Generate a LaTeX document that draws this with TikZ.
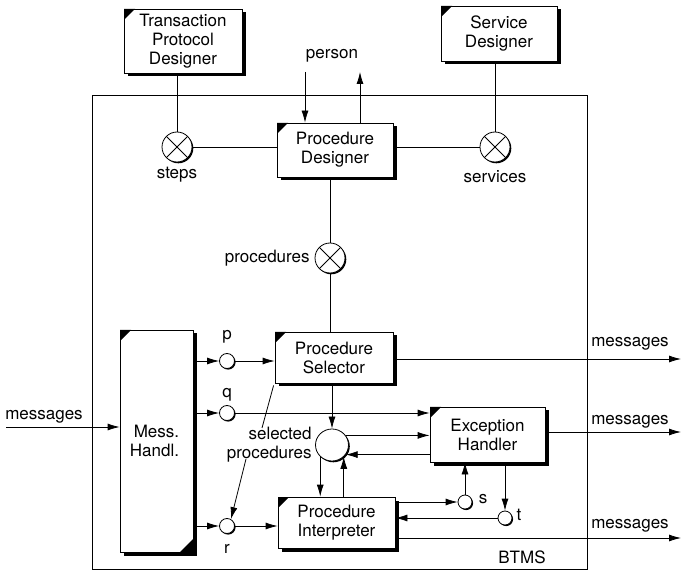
\documentclass[tikz,border=0pt]{standalone}
\usepackage{fontspec}
\setmainfont{TeX Gyre Heros}
\usetikzlibrary{arrows.meta,shapes.geometric,calc}

\begin{document}
\begin{tikzpicture}[x=1pt,y=-1pt,
  font=\fontsize{17}{19}\selectfont,
  line width=0.8pt,
  arr/.style={-{Latex[length=12pt,width=7pt]}, line width=0.8pt},
  shade off/.style={preaction={fill=black, draw=none, transform canvas={shift={(#1,-#1)}}}},
  cornermark/.style={path picture={\fill[black] (path picture bounding box.north west) -- ++(11pt,0) -- ++(-11pt,-11pt) -- cycle;}},
  box/.style={draw, fill=white, align=center, inner sep=0pt, cornermark, shade off=3.5pt},
  xcirc/.style={circle, draw, fill=white, minimum size=30pt, inner sep=0pt, shade off=1.3pt,
    path picture={\draw (path picture bounding box.north west) -- (path picture bounding box.south east)
                        (path picture bounding box.north east) -- (path picture bounding box.south west);}},
  port/.style={circle, draw, fill=white, minimum size=15pt, inner sep=0pt, shade off=1.1pt},
  lbl/.style={inner sep=1pt}
]
\useasboundingbox (0,0) rectangle (681,572);

% system boundary
\node[draw, line width=0.6pt, minimum width=495pt, minimum height=474pt, inner sep=0pt] (btms) at (339.5,332) {};
\node[lbl] (btmslbl) at (522,557) {BTMS};

% designers outside the system
\node[box, minimum width=118pt, minimum height=64pt] (tpd) at (183,41) {Transaction\\Protocol\\Designer};
\node[box, minimum width=116pt, minimum height=55pt] (sd) at (499,33.5) {Service\\Designer};

% components inside the system
\node[box, minimum width=116pt, minimum height=54pt] (pd) at (335,150) {Procedure\\Designer};
\node[box, minimum width=118pt, minimum height=51pt] (ps) at (334,357.5) {Procedure\\Selector};
\node[box, minimum width=73pt, minimum height=222pt,
      path picture={\fill[black] (path picture bounding box.north west) -- ++(11pt,0) -- ++(-11pt,-11pt) -- cycle;
                    \fill[black] (path picture bounding box.south east) -- ++(-13pt,0) -- ++(13pt,13pt) -- cycle;}]
      (mh) at (156.5,441) {Mess.\\Handl.\rule{4pt}{0pt}};
\node[box, minimum width=115pt, minimum height=55pt] (eh) at (487.5,434.5) {Exception\\Handler};
\node[box, minimum width=117pt, minimum height=51pt] (pi) at (336.5,522.5) {Procedure\\Interpreter};

% shared stores
\node[xcirc] (steps) at (177,147) {};
\node[xcirc] (services) at (495,147) {};
\node[xcirc] (procs) at (330,258) {};
\node[lbl] (stepslbl) at (177,175) {steps};
\node[lbl] (serviceslbl) at (495,177) {services};
\node[lbl, anchor=east] (procslbl) at (311,258) {procedures};

% central store of selected procedures
\node[ellipse, draw, fill=white, minimum width=33pt, minimum height=32pt, inner sep=0pt, shade off=1.3pt] (ell) at (332,445) {};
\node[lbl, align=right, anchor=east] (sellbl) at (313,445) {selected\\procedures};

% ports
\node[port] (p) at (227,361) {};
\node[port] (q) at (227,413) {};
\node[port] (r) at (227,526) {};
\node[port, minimum size=14pt] (s) at (465,502) {};
\node[port, minimum size=14pt] (t) at (505,518) {};
\node[lbl] (plbl) at (227,337) {p};
\node[lbl] (qlbl) at (227,395) {q};
\node[lbl] (rlbl) at (227,549) {r};
\node[lbl] (slbl) at (483,499) {s};
\node[lbl] (tlbl) at (519,515) {t};

% person interface
\coordinate (pin) at (305,72);
\coordinate (pout) at (360,72);
\node[lbl] (personlbl) at (332,56) {person};
\draw[arr] (pin) -- (pin |- pd.north);
\draw[arr] (pout |- pd.north) -- (pout);

% store connections
\draw (tpd.south -| steps) -- (steps.north);
\draw (sd.south -| services) -- (services.north);
\draw (steps.east) -- (steps.east -| pd.west);
\draw (pd.east |- services) -- (services.west);
\draw (pd.south -| procs) -- (procs.north);
\draw (procs.south) -- (ps.north -| procs);

% incoming messages
\coordinate (min) at (6,427);
\node[lbl] (minlbl) at (44,417) {messages};
\draw[arr] (min) -- (min -| mh.west);

% message handler outputs
\draw[arr] (mh.east |- p) -- (p.west);
\draw[arr] (p.east) -- (p -| ps.west);
\draw[arr] (mh.east |- q) -- (q.west);
\draw[arr] (q.east) -- (q -| eh.west);
\draw[arr] (mh.east |- r) -- (r.west);
\draw[arr] (r.east) -- (r -| pi.west);

% selected procedures annotation
\coordinate (selA) at (262,428);
\coordinate (selB) at (246,459);
\draw (selA) -- ([xshift=-1pt,yshift=-2pt]ps.south west);
\draw[arr] (selB) -- (r.60);

% selected procedures flow
\draw[arr] (ps.south -| ell) -- (ell.north);
\draw[arr] (ell.35) -- (ell.35 -| eh.west);
\draw[arr] (eh.west |- ell.-35) -- (ell.-35);
\draw[arr] (ell.225) -- (ell.225 |- pi.north);
\draw[arr] (ell.315 |- pi.north) -- (ell.315);

% exception ports
\draw[arr] (pi.east |- s) -- (s.west);
\draw[arr] (s.north) -- (s |- eh.south);
\draw[arr] (t |- eh.south) -- (t.north);
\draw[arr] (t.west) -- (t -| pi.east);

% outgoing messages
\coordinate (m1) at (681,359);
\coordinate (m2) at (681,432);
\coordinate (m3) at (681,538);
\draw[arr] (ps.east |- m1) -- (m1);
\draw[arr] (eh.east |- m2) -- (m2);
\draw[arr] (pi.east |- m3) -- (m3);
\node[lbl] (m1lbl) at (630,344) {messages};
\node[lbl] (m2lbl) at (630,422) {messages};
\node[lbl] (m3lbl) at (630,526) {messages};
\end{tikzpicture}
\end{document}
